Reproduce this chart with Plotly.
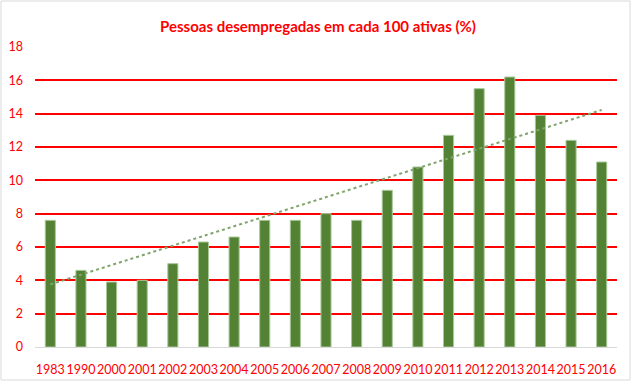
import numpy as np
import plotly.graph_objects as go

years = ["1983", "1990", "2000", "2001", "2002", "2003", "2004", "2005", "2006", "2007",
         "2008", "2009", "2010", "2011", "2012", "2013", "2014", "2015", "2016"]
values = [7.6, 4.6, 3.9, 4.0, 5.0, 6.3, 6.6, 7.6, 7.6, 8.0,
          7.6, 9.4, 10.8, 12.7, 15.5, 16.2, 13.9, 12.4, 11.1]
y_ticks = [0, 2, 4, 6, 8, 10, 12, 14, 16, 18]
title_text = "Pessoas desempregadas em cada 100 ativas (%)"

W, H = 633, 382
ML, MR, MT, MB = 35, 16, 47, 35

idx = np.arange(1, len(values) + 1)
slope, intercept = np.polyfit(idx, values, 1)
trend = slope * idx + intercept

fig = go.Figure()
fig.add_trace(go.Bar(
    x=years, y=values,
    marker=dict(color="#548235", line=dict(color="#A9C99A", width=1)),
    showlegend=False, hoverinfo="x+y",
))
fig.add_trace(go.Scatter(
    x=years, y=trend, mode="lines",
    line=dict(color="#7FA36A", width=2, dash="dot"),
    showlegend=False, hoverinfo="skip",
))

pw = W - ML - MR
ph = H - MT - MB
fig.add_shape(type="rect", xref="paper", yref="paper",
              x0=(1 - ML) / pw, x1=(W - 3 - ML) / pw,
              y0=-(MB - 2) / ph, y1=(H - MB - 1) / ph,
              line=dict(color="#D9D9D9", width=1), layer="below")

fig.update_layout(
    width=W, height=H,
    margin=dict(l=ML, r=MR, t=MT, b=MB, autoexpand=False),
    paper_bgcolor="white", plot_bgcolor="white",
    bargap=0.67,
    font=dict(family="Lato", color="#FF0000", size=12),
    title=dict(text="<b>" + title_text + "</b>", x=318 / W, xanchor="center",
               xref="container",
               y=1 - 27 / H, yanchor="middle",
               font=dict(family="Lato", size=15, color="#FF0000")),
    xaxis=dict(type="category", showgrid=False, showline=True,
               linecolor="#D9D9D9", linewidth=1, ticks="", tickangle=0,
               tickfont=dict(size=12.5, color="#FF0000"),
               ticklabelstandoff=11, automargin=False),
    yaxis=dict(range=[0, 18], tickvals=y_ticks, showgrid=True,
               gridcolor="#FF0000", gridwidth=1.5, zeroline=False,
               showline=False, ticks="",
               tickfont=dict(size=12.5, color="#FF0000"),
               ticklabelstandoff=11, automargin=False),
)

fig.write_html("out.html", config={"displayModeBar": False},
               post_script="document.body.style.margin='0';document.body.style.overflow='hidden';")
